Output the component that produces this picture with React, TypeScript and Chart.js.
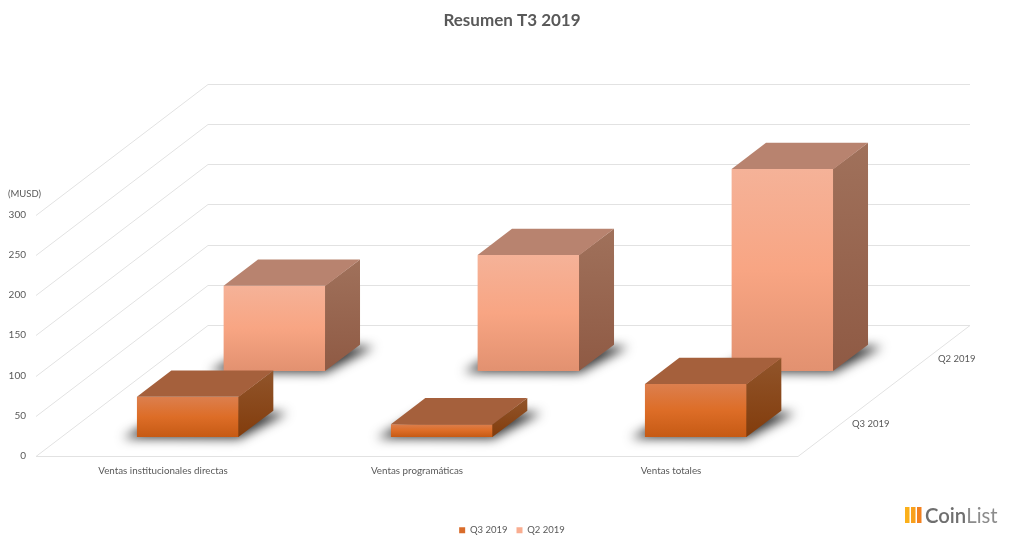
import React, { useEffect, useRef } from "react";
import { Chart, registerables } from "chart.js";

Chart.register(...registerables);

const categories = ["Ventas institucionales directas", "Ventas programáticas", "Ventas totales"];
const q3Values = [50, 16, 66];
const q2Values = [106, 144, 251];
const seriesNames = ["Q3 2019", "Q2 2019"];
const yTicks = { min: 0, max: 300, step: 50 };

const FONT = "Lato, 'Open Sans', sans-serif";
const TEXT = "#595959";
const GRID = "#e2e2e2";
const DEPTH_X = 172;
const DEPTH_Y = 131;
const BAR_DEPTH = 0.2;
const LANE_START = [0.145, 0.649];
const LANE_CENTER = [0.25, 0.75];

const looks = [
  {
    solid: "#d96c2a",
    front: ["#dc7f4e", "#dd6d27", "#c65a14"],
    side: ["#91552b", "#823c0c"],
    top: "#a5603c",
  },
  {
    solid: "#f9ad90",
    front: ["#f5b298", "#f8a583", "#e29170"],
    side: ["#a0715b", "#8f5a44"],
    top: "#b8836f",
  },
];

function faceGradient(index: number) {
  return (c: any) => {
    if (c.type !== "data") return looks[index].solid;
    const chart = c.chart;
    const y = chart.scales.y;
    if (!y) return looks[index].solid;
    const y0 = y.getPixelForValue(c.raw);
    const y1 = y.getPixelForValue(0);
    if (!Number.isFinite(y0) || !Number.isFinite(y1)) return looks[index].solid;
    const g = chart.ctx.createLinearGradient(0, y0, 0, y1);
    const s = looks[index].front;
    g.addColorStop(0, s[0]);
    g.addColorStop(0.5, s[1]);
    g.addColorStop(1, s[2]);
    return g;
  };
}

const cube = {
  id: "cube",
  beforeDatasetsDraw(chart: any) {
    const { ctx, scales, chartArea: a } = chart;
    const y = scales.y;
    ctx.save();
    ctx.strokeStyle = GRID;
    ctx.lineWidth = 1;
    ctx.beginPath();
    for (const t of y.ticks) {
      const py = Math.round(y.getPixelForValue(t.value)) + 0.5;
      ctx.moveTo(a.left, py);
      ctx.lineTo(a.left + DEPTH_X, py - DEPTH_Y);
      ctx.lineTo(a.right + DEPTH_X, py - DEPTH_Y);
    }
    const base = Math.round(y.getPixelForValue(0)) + 0.5;
    ctx.moveTo(a.left, base);
    ctx.lineTo(a.right, base);
    ctx.lineTo(a.right + DEPTH_X, base - DEPTH_Y);
    ctx.stroke();

    ctx.fillStyle = TEXT;
    ctx.font = `9.5px ${FONT}`;
    ctx.textBaseline = "middle";
    ctx.textAlign = "left";
    ctx.fillText("(MUSD)", 8, 194);
    seriesNames.forEach((name, i) => {
      const f = LANE_CENTER[i];
      ctx.fillText(name, a.right + DEPTH_X * f + 11, y.getPixelForValue(0) - DEPTH_Y * f + 1);
    });

    // CoinList mark
    const bars = ["#fbb01a", "#f9a01c", "#f3811f"];
    bars.forEach((b, i) => {
      ctx.fillStyle = b;
      ctx.fillRect(905 + i * 6, 507, 4.5, 16);
    });
    ctx.font = `600 20.3px ${FONT}`;
    ctx.fillStyle = "#6f6f6f";
    ctx.fillText("Coin", 925, 516);
    const w = ctx.measureText("Coin").width;
    ctx.font = `400 20.3px ${FONT}`;
    ctx.fillStyle = "#8c8c8c";
    ctx.fillText("List", 925 + w, 516);
    ctx.restore();
  },
  beforeDatasetDraw(chart: any, args: any) {
    const { ctx } = chart;
    const f = LANE_START[args.index];
    const dx = DEPTH_X * f;
    const dy = DEPTH_Y * f;
    const ex = DEPTH_X * BAR_DEPTH;
    const ey = DEPTH_Y * BAR_DEPTH;
    const far = 3000;
    ctx.save();
    ctx.shadowColor = "rgba(0,0,0,0.8)";
    ctx.shadowBlur = 11;
    ctx.shadowOffsetX = far * chart.currentDevicePixelRatio;
    ctx.fillStyle = "#000";
    for (const el of args.meta.data) {
      const l = el.x - el.width / 2 + dx - far;
      const r = el.x + el.width / 2 + dx - far;
      const b = el.base - dy;
      ctx.beginPath();
      ctx.moveTo(l - 14, b + 1);
      ctx.lineTo(r, b + 1.5);
      ctx.lineTo(r + ex + 14, b - ey + 2);
      ctx.lineTo(l + ex, b - ey);
      ctx.closePath();
      ctx.fill();
    }
    ctx.restore();
    ctx.save();
    ctx.translate(dx, -dy);
  },
  afterDatasetDraw(chart: any, args: any) {
    const { ctx } = chart;
    ctx.restore();
    const look = looks[args.index];
    const f = LANE_START[args.index];
    const dx = DEPTH_X * f;
    const dy = DEPTH_Y * f;
    const ex = DEPTH_X * BAR_DEPTH;
    const ey = DEPTH_Y * BAR_DEPTH;
    ctx.save();
    for (const el of args.meta.data) {
      const l = el.x - el.width / 2 + dx;
      const r = el.x + el.width / 2 + dx;
      const t = el.y - dy;
      const b = el.base - dy;
      const g = ctx.createLinearGradient(0, t - ey, 0, b);
      g.addColorStop(0, look.side[0]);
      g.addColorStop(1, look.side[1]);
      ctx.fillStyle = g;
      ctx.beginPath();
      ctx.moveTo(r - 0.6, t);
      ctx.lineTo(r + ex, t - ey);
      ctx.lineTo(r + ex, b - ey);
      ctx.lineTo(r - 0.6, b);
      ctx.closePath();
      ctx.fill();
      ctx.fillStyle = look.top;
      ctx.beginPath();
      ctx.moveTo(l, t);
      ctx.lineTo(r, t);
      ctx.lineTo(r + ex, t - ey);
      ctx.lineTo(l + ex, t - ey);
      ctx.closePath();
      ctx.fill();
    }
    ctx.restore();
  },
};

export default function App() {
  const ref = useRef<HTMLCanvasElement>(null);
  useEffect(() => {
    const chart = new Chart(ref.current as HTMLCanvasElement, {
      type: "bar",
      data: {
        labels: categories,
        datasets: [
          { label: seriesNames[0], data: q3Values, backgroundColor: faceGradient(0), grouped: false, clip: false },
          { label: seriesNames[1], data: q2Values, backgroundColor: faceGradient(1), grouped: false, clip: false },
        ] as any,
      },
      options: {
        responsive: false,
        animation: false,
        layout: { padding: { bottom: 2 } },
        datasets: { bar: { categoryPercentage: 1, barPercentage: 0.4016 } },
        scales: {
          x: {
            grid: { display: false, drawTicks: false },
            border: { display: false },
            ticks: { color: TEXT, font: { family: FONT, size: 9.8 }, padding: 9, maxRotation: 0 },
            afterFit(s: any) {
              s.height = 547 - 456 - s.chart.legend.height - 2;
            },
          },
          y: {
            min: yTicks.min,
            max: yTicks.max,
            grid: { display: false, drawTicks: false },
            border: { display: false },
            ticks: { stepSize: yTicks.step, color: TEXT, font: { family: FONT, size: 10 }, padding: 10 },
            afterFit(s: any) {
              s.width = 36;
            },
          },
          // empty room on the right for the depth of the floor and its labels
          depthRoom: {
            position: "right",
            grid: { display: false, drawTicks: false },
            border: { display: false },
            ticks: { display: false },
            afterFit(s: any) {
              s.width = 1024 - 798;
            },
          },
        },
        plugins: {
          tooltip: { enabled: false },
          title: {
            display: true,
            text: "Resumen T3 2019",
            color: TEXT,
            font: { family: FONT, size: 17, weight: "bold" },
            padding: { top: 10, bottom: 214.5 - 10 - 20.4 },
          },
          legend: {
            position: "bottom",
            labels: {
              color: TEXT,
              font: { family: FONT, size: 9.5 },
              boxWidth: 6,
              boxHeight: 6,
              padding: 9,
              generateLabels(c: any) {
                return (Chart.defaults as any).plugins.legend.labels.generateLabels(c).map((item: any, i: number) => ({
                  ...item,
                  fillStyle: looks[i].solid,
                  lineWidth: 0,
                }));
              },
            },
          },
        },
      } as any,
      plugins: [cube as any],
    });
    return () => chart.destroy();
  }, []);
  return (
    <div style={{ position: "absolute", left: 0, top: 0, width: 1024, height: 547, background: "#fff" }}>
      <canvas ref={ref} width={1024} height={547} style={{ display: "block" }} />
    </div>
  );
}
